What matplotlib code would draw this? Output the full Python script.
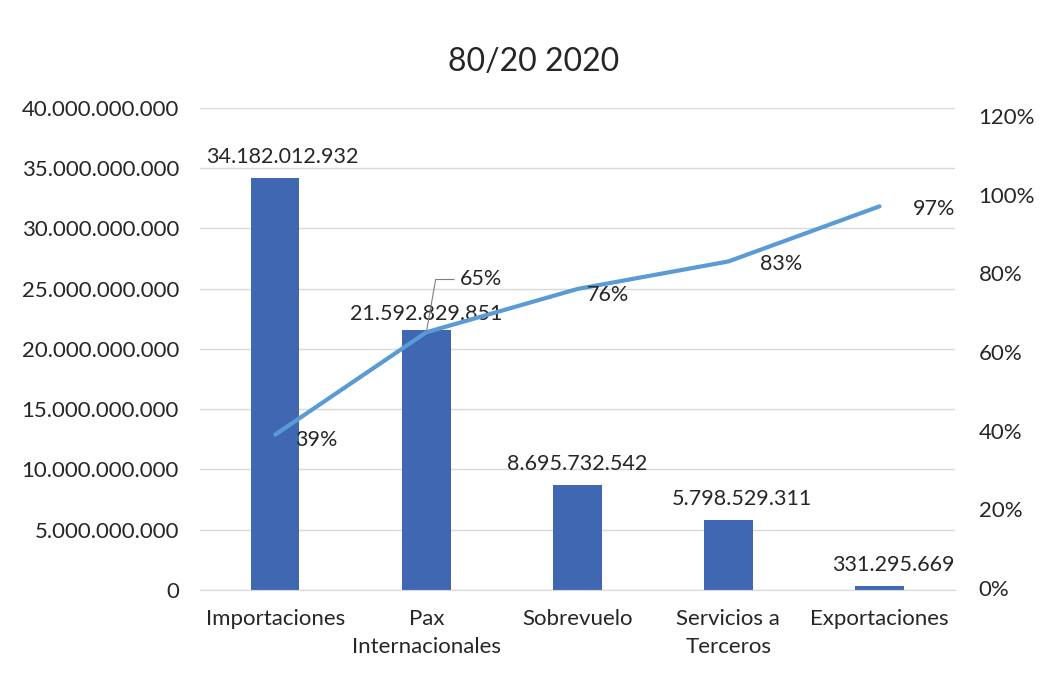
import matplotlib
matplotlib.use("Agg")
import matplotlib.pyplot as plt

categories = ["Importaciones", "Pax\nInternacionales", "Sobrevuelo", "Servicios a\nTerceros", "Exportaciones"]
values = [34182012932, 21592829851, 8695732542, 5798529311, 331295669]
cumulative = [0.39, 0.65, 0.76, 0.83, 0.97]
left_ticks = [0, 5e9, 10e9, 15e9, 20e9, 25e9, 30e9, 35e9, 40e9]
right_ticks = [0, 0.2, 0.4, 0.6, 0.8, 1.0, 1.2]

BAR = "#4068B2"
LINE = "#5B9BD5"
TXT = "#262626"
plt.rcParams["font.family"] = ["Lato", "DejaVu Sans"]


def dots(v):
    return f"{v:,.0f}".replace(",", ".")


fig = plt.figure(figsize=(10.46, 6.77), dpi=100)
ax = fig.add_axes([0.191, 0.1285, 0.722, 0.712])
x = list(range(len(categories)))
ax.bar(x, values, width=0.32, color=BAR, zorder=2)
ax.set_xlim(-0.5, len(categories) - 0.5)
ax.set_ylim(0, 40e9)
ax.set_yticks(left_ticks)
ax.set_yticklabels([dots(t) for t in left_ticks])
ax.set_xticks(x)
ax.set_xticklabels(categories, linespacing=1.45)
ax.grid(axis="y", color="#d9d9d9", lw=1, zorder=0)
for s in ["top", "right", "left"]:
    ax.spines[s].set_visible(False)
ax.spines["bottom"].set_color("#d9d9d9")
ax.tick_params(axis="y", length=0, pad=15, labelsize=16, labelcolor=TXT)
ax.tick_params(axis="x", length=0, pad=14, labelsize=16, labelcolor=TXT)

# bar value labels (offsets in points)
bar_off = [(5, 8), (0, 4), (0, 8), (10, 8), (10, 8)]
for xi, v, (dx, dy) in zip(x, values, bar_off):
    ax.annotate(dots(v), (xi, v), xytext=(dx, dy), textcoords="offset points",
                ha="center", va="bottom", fontsize=15.5, color=TXT, zorder=5)

ax2 = ax.twinx()
ax2.plot(x, cumulative, color=LINE, lw=3, solid_capstyle="round", zorder=3)
ax2.set_ylim(-0.005, 1.22)
ax2.set_yticks(right_ticks)
ax2.set_yticklabels([f"{t:.0%}" for t in right_ticks])
for s in ax2.spines.values():
    s.set_visible(False)
ax2.tick_params(axis="y", length=0, pad=17, labelsize=16, labelcolor=TXT)

pct_off = [(14, -4), (24, 38), (22, -4), (38, -2), (24, -2)]
for xi, c, (dx, dy) in zip(x, cumulative, pct_off):
    if xi == 1:
        ax2.annotate(f"{c:.0%}", (xi, c), xytext=(dx, dy), textcoords="offset points",
                     ha="left", va="center", fontsize=15.5, color=TXT,
                     arrowprops=dict(arrowstyle="-", color="#7f7f7f", lw=0.8,
                                     shrinkA=2, shrinkB=0,
                                     connectionstyle="angle,angleA=0,angleB=80,rad=0"))
    else:
        ax2.annotate(f"{c:.0%}", (xi, c), xytext=(dx, dy), textcoords="offset points",
                     ha="left" if xi in (0, 4) else "center", va="center",
                     fontsize=15.5, color=TXT)

fig.suptitle("80/20 2020", x=0.51, y=0.93, fontsize=23, color=TXT)
fig.savefig("out.png", dpi=100)
